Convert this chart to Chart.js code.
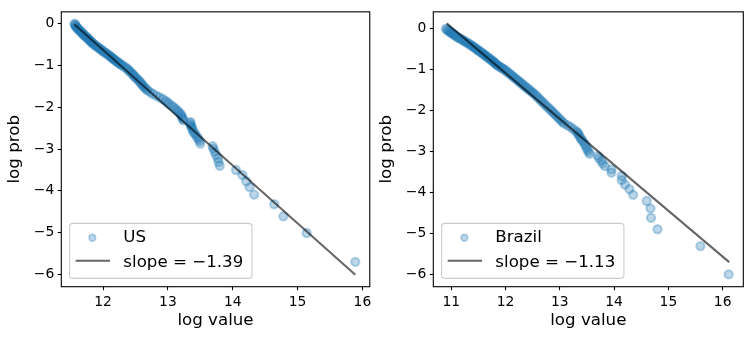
<!DOCTYPE html>
<html><head><meta charset="utf-8">
<script src="https://cdn.jsdelivr.net/npm/chart.js@4/dist/chart.umd.min.js"></script>
<style>
html,body{margin:0;padding:0;background:#fff;}
#wrap{position:relative;width:752px;height:341px;overflow:hidden;}
canvas{position:absolute;top:0;}
</style></head><body>
<div id="wrap">
<canvas id="c1" width="376" height="341" style="left:0px"></canvas>
<canvas id="c2" width="376" height="341" style="left:376px"></canvas>
</div>
<script>
// ---------- DATA ----------
const usName = "US";
const usSlopeLabel = "slope = \u22121.39";
const usLogValue = [
11.56,11.565,11.575,11.58,11.59,11.60,11.615,11.625,11.64,11.65,
11.665,11.68,11.69,11.70,11.715,11.73,11.745,11.76,11.77,11.785,
11.795,11.81,11.82,11.835,11.85,11.865,11.885,11.90,11.92,11.935,
11.95,11.97,11.99,12.00,12.02,12.04,12.06,12.08,12.10,12.11,
12.13,12.14,12.16,12.175,12.19,12.21,12.225,12.245,12.26,12.28,
12.30,12.33,12.36,12.38,12.40,12.42,12.44,12.46,12.475,12.49,
12.51,12.535,12.55,12.57,12.585,12.60,12.615,12.63,12.65,12.67,
12.69,12.73,12.77,12.82,12.87,12.92,12.96,12.99,13.02,13.06,
13.09,13.12,13.15,13.17,13.20,13.21,13.22,13.23,
13.24,13.35,13.34,13.35,13.36,13.37,13.38,13.39,13.41,13.43,
13.45,13.47,13.49,13.50,13.69,13.70,13.72,13.74,13.77,13.78,
13.80,14.05,14.15,14.21,14.26,14.33,14.64,14.78,15.14,15.89];
const usLogProb = [
0.00,-0.02,-0.04,-0.06,-0.08,-0.10,-0.12,-0.14,-0.16,-0.18,
-0.20,-0.22,-0.24,-0.26,-0.28,-0.30,-0.32,-0.34,-0.36,-0.38,
-0.40,-0.42,-0.44,-0.46,-0.48,-0.50,-0.52,-0.54,-0.56,-0.58,
-0.60,-0.62,-0.64,-0.66,-0.68,-0.70,-0.72,-0.74,-0.76,-0.78,
-0.80,-0.82,-0.84,-0.86,-0.88,-0.90,-0.92,-0.94,-0.96,-0.98,
-1.00,-1.03,-1.06,-1.09,-1.12,-1.15,-1.18,-1.21,-1.24,-1.27,
-1.30,-1.33,-1.36,-1.39,-1.42,-1.45,-1.48,-1.51,-1.54,-1.57,
-1.60,-1.64,-1.68,-1.72,-1.76,-1.80,-1.84,-1.88,-1.92,-1.96,
-2.00,-2.04,-2.08,-2.12,-2.16,-2.20,-2.24,-2.28,
-2.31,-2.35,-2.38,-2.42,-2.45,-2.49,-2.53,-2.58,-2.62,-2.66,
-2.71,-2.76,-2.81,-2.87,-2.93,-2.99,-3.06,-3.14,-3.22,-3.31,
-3.40,-3.50,-3.62,-3.77,-3.91,-4.09,-4.32,-4.61,-5.01,-5.70];
const usFitX = [11.556, 15.89];
const usFitY = [-0.01, -6.01];

const brName = "Brazil";
const brSlopeLabel = "slope = \u22121.13";
const brLogValue = [
10.90,10.92,10.94,10.96,10.98,11.00,11.02,11.045,11.065,11.085,
11.11,11.135,11.16,11.19,11.215,11.24,11.265,11.29,11.315,11.34,
11.365,11.385,11.41,11.43,11.45,11.47,11.49,11.51,11.535,11.555,
11.575,11.595,11.615,11.635,11.655,11.675,11.695,11.715,11.735,11.755,
11.775,11.79,11.805,11.82,11.84,11.86,11.885,11.91,11.935,11.96,
11.985,12.015,12.04,12.07,12.10,12.125,12.15,12.18,12.21,12.235,
12.26,12.29,12.315,12.345,12.37,12.40,12.43,12.455,12.485,12.51,
12.54,12.57,12.60,12.63,12.66,12.69,12.72,12.75,12.785,12.815,
12.845,12.875,12.905,12.935,12.965,12.995,13.025,13.055,13.09,
13.15,13.20,13.25,13.30,13.33,13.34,13.36,13.38,13.40,13.42,
13.45,13.47,13.49,13.51,13.53,13.55,13.70,13.72,13.77,13.79,
13.83,13.95,13.95,14.14,14.14,14.20,14.28,14.35,14.60,14.67,
14.68,14.80,15.59,16.11];
const brLogProb = [
0.00,-0.02,-0.04,-0.06,-0.08,-0.10,-0.12,-0.14,-0.16,-0.18,
-0.20,-0.22,-0.24,-0.26,-0.28,-0.30,-0.32,-0.34,-0.36,-0.38,
-0.40,-0.42,-0.44,-0.46,-0.48,-0.50,-0.52,-0.54,-0.56,-0.58,
-0.60,-0.62,-0.64,-0.66,-0.68,-0.70,-0.72,-0.74,-0.76,-0.78,
-0.80,-0.82,-0.84,-0.86,-0.88,-0.90,-0.92,-0.94,-0.96,-0.98,
-1.00,-1.03,-1.06,-1.09,-1.12,-1.15,-1.18,-1.21,-1.24,-1.27,
-1.30,-1.33,-1.36,-1.39,-1.42,-1.45,-1.48,-1.51,-1.54,-1.57,
-1.60,-1.64,-1.68,-1.72,-1.76,-1.80,-1.84,-1.88,-1.92,-1.96,
-2.00,-2.04,-2.08,-2.12,-2.16,-2.20,-2.24,-2.28,-2.32,
-2.36,-2.40,-2.45,-2.50,-2.53,-2.57,-2.61,-2.66,-2.70,-2.74,
-2.79,-2.84,-2.90,-2.95,-3.00,-3.05,-3.10,-3.16,-3.22,-3.29,
-3.35,-3.43,-3.51,-3.59,-3.69,-3.80,-3.91,-4.05,-4.20,-4.38,
-4.61,-4.89,-5.30,-5.99];
const brFitX = [10.915, 16.12];
const brFitY = [0.13, -5.69];

const usXTicks = [12, 13, 14, 15, 16];
const brXTicks = [11, 12, 13, 14, 15, 16];
const yTicks = [0, -1, -2, -3, -4, -5, -6];
const xTitle = "log value";
const yTitle = "log prob";

// ---------- RENDERING ----------
Chart.defaults.font.family = '"DejaVu Sans", sans-serif';
Chart.defaults.color = '#000';

const C0 = 'rgba(31,119,180,0.3)';
const FS_TICK = 13.89, FS_LABEL = 16.67;

const frame = {
  id: 'frame',
  afterDatasetsDraw(chart) {
    const {ctx, chartArea: a} = chart;
    ctx.save();
    ctx.strokeStyle = '#000';
    ctx.lineWidth = 1.1;
    ctx.strokeRect(a.left, a.top, a.right - a.left, a.bottom - a.top);
    ctx.restore();
  }
};

const mplLegend = {
  id: 'mplLegend',
  afterDraw(chart) {
    const {ctx, chartArea: a} = chart;
    const ds = chart.data.datasets;
    const scat = ds.find(d => d.type === 'scatter');
    const line = ds.find(d => d.type === 'line');
    const labels = [scat.label, line.label];
    ctx.save();
    ctx.font = FS_LABEL + 'px "DejaVu Sans"';
    const tw = Math.max(...labels.map(t => ctx.measureText(t).width));
    const bh = 55, bx = a.left + 8.33, by = a.bottom - 8.33 - bh;
    const bw = 53.7 + tw + 8.7;
    ctx.beginPath();
    ctx.roundRect(bx, by, bw, bh, 3.3);
    ctx.fillStyle = 'rgba(255,255,255,0.8)';
    ctx.fill();
    ctx.lineWidth = 1.1;
    ctx.strokeStyle = '#cccccc';
    ctx.stroke();
    ctx.beginPath();
    ctx.arc(bx + 22.7, by + 14.4, 3.4, 0, Math.PI * 2);
    ctx.fillStyle = C0; ctx.fill();
    ctx.lineWidth = 1.6; ctx.strokeStyle = C0; ctx.stroke();
    ctx.beginPath();
    ctx.moveTo(bx + 6, by + 37.4); ctx.lineTo(bx + 40.4, by + 37.4);
    ctx.strokeStyle = 'rgba(0,0,0,0.6)'; ctx.lineWidth = 2.08; ctx.stroke();
    ctx.fillStyle = '#000';
    ctx.textAlign = 'left'; ctx.textBaseline = 'alphabetic';
    ctx.fillText(labels[0], bx + 53.7, by + 18.4);
    ctx.fillText(labels[1], bx + 53.7, by + 44);
    ctx.restore();
  }
};

function fmt(v) { return v < 0 ? '\u2212' + Math.abs(v) : String(v); }

function makeChart(id, o) {
  const pts = o.xs.map((x, i) => ({x: x, y: o.ys[i]}));
  const fit = o.fx.map((x, i) => ({x: x, y: o.fy[i]}));
  const axisCommon = {
    type: 'linear',
    grid: {display: true, drawOnChartArea: false, drawTicks: true, tickLength: 3.5,
           tickColor: '#000', tickWidth: 1.1, color: '#000'},
    border: {display: false},
  };
  return new Chart(document.getElementById(id), {
    type: 'scatter',
    data: {
      datasets: [
        {type: 'line', label: o.slopeLabel, data: fit, borderColor: 'rgba(0,0,0,0.6)',
         borderWidth: 2.08, pointRadius: 0, showLine: true, fill: false, order: 1},
        {type: 'scatter', label: o.name, data: pts, backgroundColor: C0, borderColor: C0,
         borderWidth: 2.08, pointRadius: 4.17, order: 2}
      ]
    },
    options: {
      responsive: false, animation: false, events: [],
      layout: {padding: {top: 10.3, right: o.padRight, left: 0, bottom: 0}},
      plugins: {legend: {display: false}, tooltip: {enabled: false}},
      scales: {
        x: Object.assign({}, axisCommon, {
          position: 'bottom', min: o.xmin, max: o.xmax,
          afterFit(s) { s.height = 54.3; },
          afterBuildTicks(s) { s.ticks = o.xTicks.map(v => ({value: v})); },
          ticks: {font: {size: FS_TICK, lineHeight: 1.2}, padding: 4, maxRotation: 0,
                  autoSkip: false, callback: v => fmt(v)},
          title: {display: true, text: xTitle, font: {size: FS_LABEL, lineHeight: 1.2},
                  padding: {top: 0, bottom: 10.1}}
        }),
        y: Object.assign({}, axisCommon, {
          position: 'left', min: o.ymin, max: o.ymax,
          afterFit(s) { s.width = o.yWidth; },
          afterBuildTicks(s) { s.ticks = yTicks.map(v => ({value: v})); },
          ticks: {font: {size: FS_TICK, lineHeight: 1.2}, padding: 3.5, autoSkip: false,
                  callback: v => fmt(v)},
          title: {display: true, text: yTitle, font: {size: FS_LABEL, lineHeight: 1.2},
                  padding: {top: o.yTitlePad, bottom: 0}}
        })
      }
    },
    plugins: [frame, mplLegend]
  });
}

makeChart('c1', {xs: usLogValue, ys: usLogProb, fx: usFitX, fy: usFitY,
  name: usName, slopeLabel: usSlopeLabel, xTicks: usXTicks,
  xmin: 11.356, xmax: 16.113, ymin: -6.295, ymax: 0.286,
  yWidth: 61.3, padRight: 4.3, yTitlePad: 4.6});
makeChart('c2', {xs: brLogValue, ys: brLogProb, fx: brFitX, fy: brFitY,
  name: brName, slopeLabel: brSlopeLabel, xTicks: brXTicks,
  xmin: 10.669, xmax: 16.38, ymin: -6.29, ymax: 0.412,
  yWidth: 57.3, padRight: 8.7, yTitlePad: 0.6});
</script>
</body></html>
